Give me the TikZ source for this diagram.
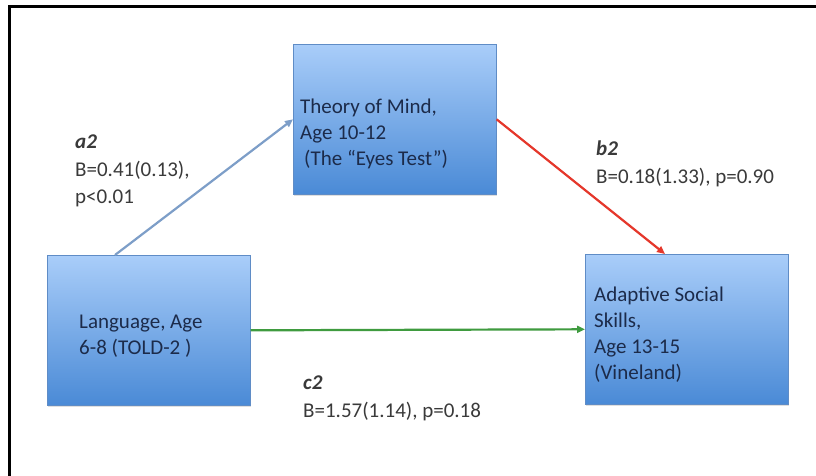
\documentclass[tikz,border=0pt]{standalone}
\usepackage{fontspec}
\setmainfont{Carlito}
\usepackage{xcolor}
\usetikzlibrary{arrows.meta,shadows}
\definecolor{boxtop}{HTML}{A9CDF9}
\definecolor{boxbot}{HTML}{4A8AD6}
\definecolor{boxline}{HTML}{5F8CC6}
\definecolor{boxtext}{HTML}{1C2B4A}
\definecolor{lbltext}{HTML}{3A3A3A}
\definecolor{steel}{HTML}{7D9EC8}
\definecolor{redline}{HTML}{E5372B}
\definecolor{greenline}{HTML}{3F9B3F}
\tikzset{
  frame/.style={draw=black, line width=3pt},
  varbox/.style={rectangle, anchor=north west, inner sep=0pt,
    minimum width=203pt, minimum height=150pt,
    draw=boxline, line width=0.6pt, top color=boxtop, bottom color=boxbot,
    drop shadow={shadow xshift=1pt, shadow yshift=-2pt, opacity=0.25}},
  boxtxt/.style={inner sep=0pt, align=left, text=boxtext,
    font=\fontsize{21}{26}\selectfont},
  lbl/.style={anchor=north west, inner sep=0pt, align=left, text=lbltext,
    font=\fontsize{21}{27.5}\selectfont},
  tip/.style={-{Triangle[length=8pt,width=7pt]}},
  aline/.style={tip, draw=steel, line width=2.2pt},
  bline/.style={tip, draw=redline, line width=2.2pt},
  cline/.style={tip, draw=greenline, line width=2.2pt}
}
\begin{document}
\begin{tikzpicture}[x=1pt, y={(0pt,-1pt)}]
  \useasboundingbox (0,0) rectangle (816,475);
  \fill[white] (0,0) rectangle (816,475);
  \draw[frame] (816,6) -- (9,6) -- (9,476);

  % the three variables
  \node[varbox] (tom) at (293,44) {};
  \node[varbox] (lang) at (47,255) {};
  \node[varbox] (skills) at (585,254) {};

  \node[boxtxt, anchor=west] (tomtxt) at ([xshift=7pt,yshift=-15pt]tom.west)
    {Theory of Mind,\\Age 10-12\\\hspace{4pt}(The “Eyes Test”)};
  \node[boxtxt, anchor=west] (langtxt) at ([xshift=32pt,yshift=-6pt]lang.west)
    {Language, Age\\6-8 (TOLD-2 )};
  \node[boxtxt, anchor=west] (skillstxt) at ([xshift=9pt,yshift=-5pt]skills.west)
    {Adaptive Social\\Skills,\\Age 13-15\\(Vineland)};

  % paths
  \draw[aline] ([xshift=68pt]lang.north west) -- (tom.west);
  \draw[bline] (tom.east) -- ([xshift=80pt]skills.north west);
  \draw[cline] (lang.east) -- (skills.west);

  \node[lbl] (alabel) at (75,135) {\textbf{\textit{a2}}\\B=0.41(0.13),\\p<0.01};
  \node[lbl] (blabel) at (596,141) {\textbf{\textit{b2}}\\B=0.18(1.33), p=0.90};
  \node[lbl] (clabel) at (303,376) {\textbf{\textit{c2}}\\B=1.57(1.14), p=0.18};
\end{tikzpicture}
\end{document}
